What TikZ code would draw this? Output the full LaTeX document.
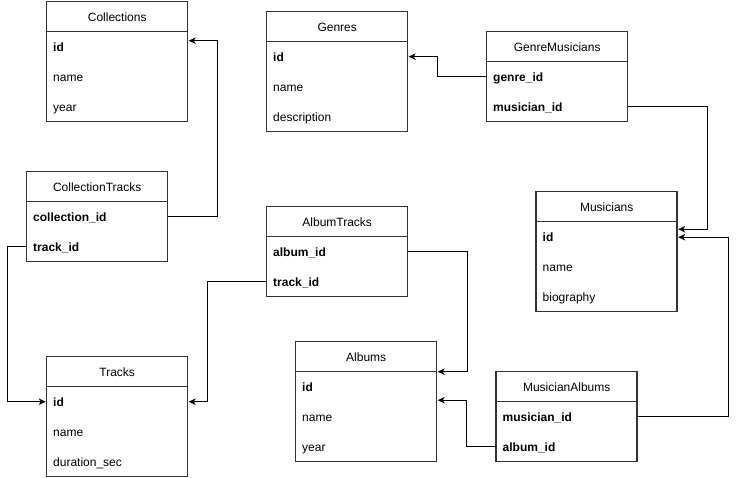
\documentclass[tikz,border=0pt]{standalone}
\usepackage{fontspec}
\setmainfont{Liberation Sans}
\usetikzlibrary{arrows.meta,fit,positioning}

\begin{document}
\begin{tikzpicture}[>={Stealth[length=7pt,width=6.5pt,inset=2pt]},x=1pt,y=-1pt,
	font=\fontsize{12}{14}\selectfont,
	tblhead/.style={draw=black!80,line width=1.5pt,minimum width=141pt,minimum height=30pt,inner sep=0pt,outer sep=0pt,text height=9pt,text depth=0pt},
	tblrow/.style={minimum height=30pt,text width=128pt,inner xsep=6.5pt,inner ysep=0pt,outer sep=0pt,align=left,text height=9pt,text depth=0pt,below=0pt of #1},
	tblkey/.style={tblrow=#1,font=\fontsize{12}{14}\selectfont\bfseries},
	tblbody/.style={draw=black!80,line width=1.5pt,inner sep=0pt,outer sep=0pt},
	link/.style={->,line width=0.9pt,shorten >=1pt}]
	\useasboundingbox (0,0) rectangle (736,477);
	% Collections
	\node[tblhead] (col) at (117.2,16.7) {Collections};
	\node[tblkey=col] (col-id) {id};
	\node[tblrow=col-id] (col-name) {name};
	\node[tblrow=col-name] (col-year) {year};
	\node[tblbody,fit=(col-id)(col-year)] {};
	% Genres
	\node[tblhead] (gen) at (337.2,26.7) {Genres};
	\node[tblkey=gen] (gen-id) {id};
	\node[tblrow=gen-id] (gen-name) {name};
	\node[tblrow=gen-name] (gen-desc) {description};
	\node[tblbody,fit=(gen-id)(gen-desc)] {};
	% GenreMusicians
	\node[tblhead] (gm) at (557.2,46.7) {GenreMusicians};
	\node[tblkey=gm] (gm-genre) {genre\_id};
	\node[tblkey=gm-genre] (gm-musician) {musician\_id};
	\node[tblbody,fit=(gm-genre)(gm-musician)] {};
	% CollectionTracks
	\node[tblhead] (ct) at (97.2,186.7) {CollectionTracks};
	\node[tblkey=ct] (ct-collection) {collection\_id};
	\node[tblkey=ct-collection] (ct-track) {track\_id};
	\node[tblbody,fit=(ct-collection)(ct-track)] {};
	% AlbumTracks
	\node[tblhead] (at) at (337.2,221.7) {AlbumTracks};
	\node[tblkey=at] (at-album) {album\_id};
	\node[tblkey=at-album] (at-track) {track\_id};
	\node[tblbody,fit=(at-album)(at-track)] {};
	% Musicians
	\node[tblhead] (mus) at (606.7,206.7) {Musicians};
	\node[tblkey=mus] (mus-id) {id};
	\node[tblrow=mus-id] (mus-name) {name};
	\node[tblrow=mus-name] (mus-bio) {biography};
	\node[tblbody,fit=(mus-id)(mus-bio)] {};
	% Tracks
	\node[tblhead] (trk) at (117.2,371.7) {Tracks};
	\node[tblkey=trk] (trk-id) {id};
	\node[tblrow=trk-id] (trk-name) {name};
	\node[tblrow=trk-name] (trk-dur) {duration\_sec};
	\node[tblbody,fit=(trk-id)(trk-dur)] {};
	% Albums
	\node[tblhead] (alb) at (366.2,356.7) {Albums};
	\node[tblkey=alb] (alb-id) {id};
	\node[tblrow=alb-id] (alb-name) {name};
	\node[tblrow=alb-name] (alb-year) {year};
	\node[tblbody,fit=(alb-id)(alb-year)] {};
	% MusicianAlbums
	\node[tblhead] (ma) at (566.7,386.7) {MusicianAlbums};
	\node[tblkey=ma] (ma-musician) {musician\_id};
	\node[tblkey=ma-musician] (ma-album) {album\_id};
	\node[tblbody,fit=(ma-musician)(ma-album)] {};
	% links
	\draw[link] (gm-genre.west) -- ++(-49,0) |- (gen-id.east);
	\draw[link] (gm-musician.east) -- ++(80,0) |- ([yshift=7.5pt]mus-id.east);
	\draw[link] (ma-musician.east) -- ++(91,0) |- ([yshift=-0.5pt]mus-id.east);
	\draw[link] (ct-collection.east) -- ++(50,0) |- ([yshift=6pt]col-id.east);
	\draw[link] (ct-track.west) -- ++(-19.5,0) |- (trk-id.west);
	\draw[link] (at-track.west) -- ++(-59,0) |- (trk-id.east);
	\draw[link] (at-album.east) -- ++(60,0) |- (alb.south east);
	\draw[link] (ma-album.west) -- ++(-30,0) |- ([yshift=-13.5pt]alb-id.east);
\end{tikzpicture}
\end{document}
